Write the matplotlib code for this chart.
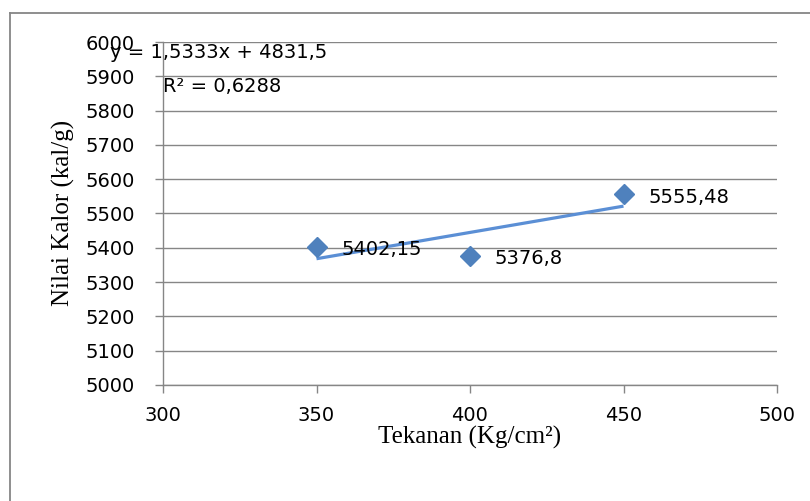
import numpy as np
import matplotlib
matplotlib.use("Agg")
import matplotlib.pyplot as plt
from matplotlib.lines import Line2D

# Calorific value measured at each briquetting pressure
pressure = [350, 400, 450]
calorific = [5402.15, 5376.8, 5555.48]
value_labels = ["5402,15", "5376,8", "5555,48"]

x_ticks = [300, 350, 400, 450, 500]
y_ticks = [5000, 5100, 5200, 5300, 5400, 5500, 5600, 5700, 5800, 5900, 6000]

W, H = 810, 501
fig = plt.figure(figsize=(W / 100, H / 100), dpi=100)
ax = fig.add_axes([163 / W, 1 - 385 / H, (777 - 163) / W, (385 - 42) / H])

grid_color = "#868686"
sans = "DejaVu Sans"
serif = "Liberation Serif"
fs = 14

# Linear trendline fitted over the measured points
slope, intercept = np.polyfit(pressure, calorific, 1)
r2 = np.corrcoef(pressure, calorific)[0, 1] ** 2
fit_x = np.array([min(pressure), max(pressure)])
ax.plot(fit_x, slope * fit_x + intercept, color="#5B8FD5", lw=2.3, zorder=3,
        solid_capstyle="butt")

ax.plot(pressure, calorific, linestyle="none", marker="D", markersize=10.5,
        color="#4F81BD", zorder=4)

for px, py, lab in zip(pressure, calorific, value_labels):
    ax.annotate(lab, (px, py), xytext=(18, -2), textcoords="offset points",
                ha="left", va="center", fontsize=fs, family=sans,
                color="black", zorder=5)

ax.set_xlim(300, 500)
ax.set_ylim(5000, 6000)
ax.set_xticks(x_ticks)
ax.set_yticks(y_ticks)
ax.set_xticklabels([str(t) for t in x_ticks], family=sans, fontsize=fs)
ax.set_yticklabels([str(t) for t in y_ticks], family=sans, fontsize=fs)

ax.yaxis.grid(True, color=grid_color, lw=1.0)
ax.set_axisbelow(True)
for side in ("top", "right"):
    ax.spines[side].set_visible(False)
for side in ("left", "bottom"):
    ax.spines[side].set_color(grid_color)
    ax.spines[side].set_linewidth(1.0)
ax.tick_params(axis="both", direction="out", length=6, width=1.0,
               color=grid_color)
ax.tick_params(axis="y", pad=14)
ax.tick_params(axis="x", pad=9)

fig.text(470 / W, 1 - 437 / H, "Tekanan (Kg/cm²)", family=serif, fontsize=18,
         ha="center", va="center")
fig.text(63 / W, 1 - 213 / H, "Nilai Kalor (kal/g)", family=serif, fontsize=18,
         ha="center", va="center", rotation=90)

# Trendline equation and coefficient of determination
eq = f"y = {slope:.4f}x + {intercept:.1f}".replace(".", ",")
r2_text = f"R² = {r2:.4f}".replace(".", ",")
fig.text(110 / W, 1 - 52 / H, eq, family=sans, fontsize=fs, ha="left", va="center")
fig.text(163 / W, 1 - 86 / H, r2_text, family=sans, fontsize=fs, ha="left", va="center")

# Chart frame
fig.add_artist(Line2D([10 / W, 1.0], [1 - 13 / H, 1 - 13 / H], color=grid_color,
                      lw=1.3, transform=fig.transFigure))
fig.add_artist(Line2D([10 / W, 10 / W], [1 - 13 / H, 0.0], color=grid_color,
                      lw=1.3, transform=fig.transFigure))

fig.savefig("out.png", dpi=100, facecolor="white")
